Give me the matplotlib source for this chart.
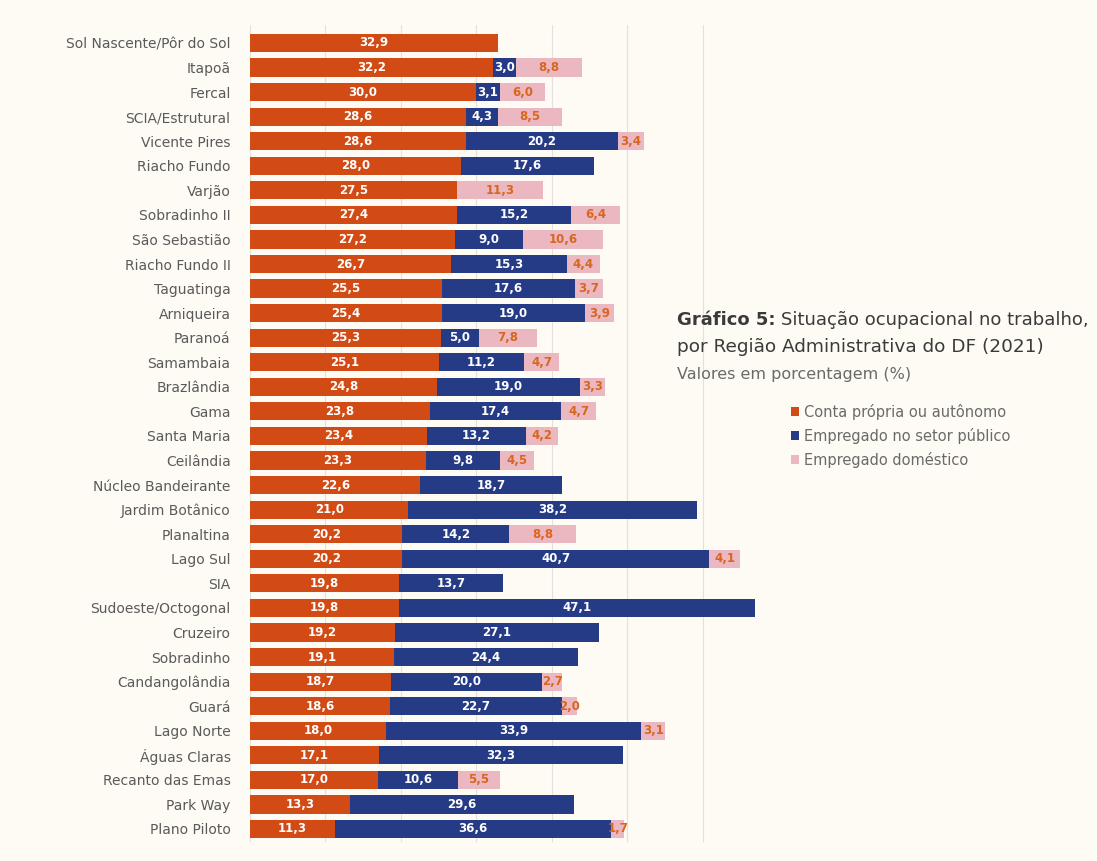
import matplotlib.pyplot as plt
import matplotlib
import numpy as np
from matplotlib.patches import Patch

matplotlib.rcParams['font.family'] = ['DejaVu Sans']

regioes = ['Sol Nascente/Pôr do Sol', 'Itapoã', 'Fercal', 'SCIA/Estrutural', 'Vicente Pires',
           'Riacho Fundo', 'Varjão', 'Sobradinho II', 'São Sebastião', 'Riacho Fundo II',
           'Taguatinga', 'Arniqueira', 'Paranoá', 'Samambaia', 'Brazlândia', 'Gama',
           'Santa Maria', 'Ceilândia', 'Núcleo Bandeirante', 'Jardim Botânico', 'Planaltina',
           'Lago Sul', 'SIA', 'Sudoeste/Octogonal', 'Cruzeiro', 'Sobradinho', 'Candangolândia',
           'Guará', 'Lago Norte', 'Águas Claras', 'Recanto das Emas', 'Park Way', 'Plano Piloto']
conta_propria = [32.9, 32.2, 30.0, 28.6, 28.6, 28.0, 27.5, 27.4, 27.2, 26.7, 25.5, 25.4, 25.3,
                 25.1, 24.8, 23.8, 23.4, 23.3, 22.6, 21.0, 20.2, 20.2, 19.8, 19.8, 19.2, 19.1,
                 18.7, 18.6, 18.0, 17.1, 17.0, 13.3, 11.3]
setor_publico = [0, 3.0, 3.1, 4.3, 20.2, 17.6, 0, 15.2, 9.0, 15.3, 17.6, 19.0, 5.0, 11.2, 19.0,
                 17.4, 13.2, 9.8, 18.7, 38.2, 14.2, 40.7, 13.7, 47.1, 27.1, 24.4, 20.0, 22.7,
                 33.9, 32.3, 10.6, 29.6, 36.6]
domestico = [0, 8.8, 6.0, 8.5, 3.4, 0, 11.3, 6.4, 10.6, 4.4, 3.7, 3.9, 7.8, 4.7, 3.3, 4.7, 4.2,
             4.5, 0, 0, 8.8, 4.1, 0, 0, 0, 0, 2.7, 2.0, 3.1, 0, 5.5, 0, 1.7]
series = ['Conta própria ou autônomo', 'Empregado no setor público', 'Empregado doméstico']

cores = ['#d24a14', '#263b85', '#ebb8c1']
cores_texto = ['white', 'white', '#d8661e']
fundo = '#fefbf4'

fig = plt.figure(figsize=(10.97, 8.61), dpi=100, facecolor=fundo)
ax = fig.add_axes([250 / 1097, 1 - 842 / 861, (778 - 250) / 1097, (842 - 25) / 861])
ax.set_facecolor(fundo)

y = np.arange(len(regioes))
left = np.zeros(len(regioes))
for vals, cor, ct in zip([conta_propria, setor_publico, domestico], cores, cores_texto):
    vals = np.array(vals)
    ax.barh(y, vals, left=left, height=0.74, color=cor, zorder=2)
    for i, v in enumerate(vals):
        if v > 0:
            ax.text(left[i] + v / 2, y[i], ('%.1f' % v).replace('.', ','), ha='center',
                    va='center', color=ct, fontsize=8.5, fontweight='bold', zorder=3)
    left = left + vals

ax.set_xlim(0, 70)
ax.set_ylim(len(regioes) - 1 + 0.53, -0.73)
ax.set_xticks(np.arange(0, 71, 10))
ax.xaxis.grid(True, color='#e4e1dc', linewidth=0.8, zorder=0)
ax.tick_params(axis='x', length=0, labelbottom=False)
ax.tick_params(axis='y', length=0, pad=14)
ax.set_yticks(y)
ax.set_yticklabels(regioes, fontsize=10, color='#5a5a5a')
for s in ax.spines.values():
    s.set_visible(False)

# título
t1 = fig.text(677 / 1097, 1 - 320 / 861, 'Gráfico 5:', fontsize=13, fontweight='bold',
              color='#3a3a3a', va='center', ha='left')
fig.canvas.draw()
bb = t1.get_window_extent()
fig.text((bb.x1 + 5) / 1097, 1 - 320 / 861, 'Situação ocupacional no trabalho,',
         fontsize=13, color='#3a3a3a', va='center', ha='left')
fig.text(677 / 1097, 1 - 347 / 861, 'por Região Administrativa do DF (2021)', fontsize=13.3,
         color='#3a3a3a', va='center', ha='left')
fig.text(677 / 1097, 1 - 374 / 861, 'Valores em porcentagem (%)', fontsize=11.5,
         color='#6a6a6a', va='center', ha='left')

handles = [Patch(facecolor=c) for c in cores]
fig.legend(handles, series, loc='upper left', bbox_to_anchor=(785 / 1097, 1 - 398 / 861),
           frameon=False, fontsize=10.5, labelcolor='#6a6a6a', handlelength=0.55,
           handleheight=0.55, handletextpad=0.35, labelspacing=0.55, borderaxespad=0)

fig.savefig('out.png', dpi=100, facecolor=fundo)
